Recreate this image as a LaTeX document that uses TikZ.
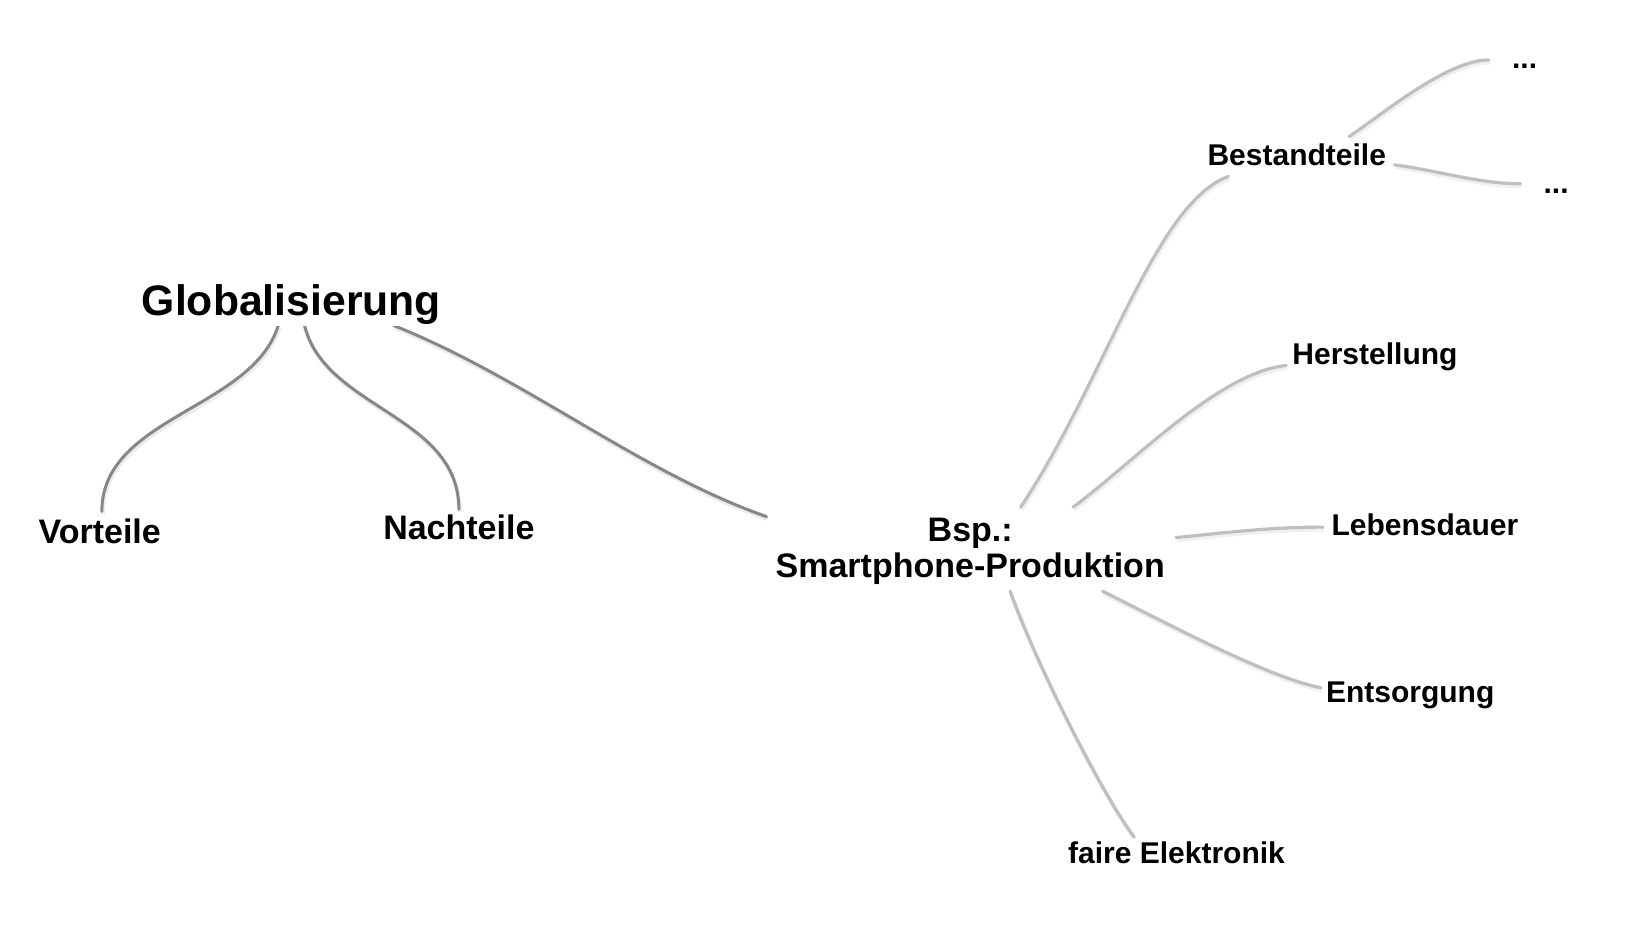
\documentclass[tikz,border=0pt]{standalone}
\usepackage{fontspec}
\setmainfont{Liberation Sans}
\usetikzlibrary{calc,backgrounds}
\begin{document}
\begin{tikzpicture}[x=1.05pt,y=-1.05pt,
  lbl/.style={inner sep=2pt, fill=white, text=black},
  big/.style={lbl, font=\bfseries\fontsize{42.7}{48}\selectfont},
  mid/.style={lbl, font=\bfseries\fontsize{34}{36.8}\selectfont},
  sml/.style={lbl, font=\bfseries\fontsize{30}{34}\selectfont},
  darkline/.style={draw=black!47, line width=3pt, line cap=round,
    preaction={draw=black!8, line width=3.8pt, transform canvas={shift={(1pt,-2.5pt)}}}},
  lightline/.style={draw=black!25, line width=3.2pt, line cap=round,
    preaction={draw=black!6, line width=4pt, transform canvas={shift={(1pt,-2.5pt)}}}}
]
\useasboundingbox (0,0) rectangle (1564.76,884.76);

% nodes
\node[big, anchor=base] (glob) at (277.5,300) {Globalisierung};
\node[mid, anchor=base] (vort) at (95,518) {Vorteile};
\node[mid, anchor=base] (nach) at (437,514) {Nachteile};
\node[mid, align=center] (smart) at (924,525) {Bsp.:\\Smartphone-Produktion};
\node[sml, anchor=base] (best) at (1235,158) {Bestandteile};
\node[sml, anchor=base] (dotsa) at (1452,65) {...};
\node[sml, anchor=base] (dotsb) at (1482,184) {...};
\node[sml, anchor=base] (herst) at (1309.5,347) {Herstellung};
\node[sml, anchor=base] (leb) at (1357,510) {Lebensdauer};
\node[sml, anchor=base] (ents) at (1343,669) {Entsorgung};
\node[sml, anchor=base] (faire) at (1120.5,822) {faire Elektronik};

\begin{scope}[on background layer]
\fill[white] (0,0) rectangle (1564.76,884.76);
% Globalisierung branches
\draw[darkline] ($(glob.base)+(-12.5,10)$) .. controls +(-25,80) and +(0,-90) .. ($(vort.base)+(2,-31)$);
\draw[darkline] ($(glob.base)+(12.5,10)$) .. controls +(20,80) and +(0,-90) .. ($(nach.base)+(0,-29)$);
\draw[darkline] ($(glob.base)+(97.5,10)$) .. controls +(125,50) and +(-120,-42) .. ($(smart.center)+(-194,-33)$);
% Smartphone branches
\draw[lightline] ($(smart.center)+(48,-42)$) .. controls +(80,-120) and +(-70,25) .. ($(best.base)+(-65,10)$);
\draw[lightline] ($(smart.center)+(98,-42)$) .. controls +(58,-43) and +(-65,7) .. ($(herst.base)+(-84.5,1)$);
\draw[lightline] ($(smart.center)+(196,-13)$) .. controls +(50,-5) and +(-50,0) .. ($(leb.base)+(-97,-8)$);
\draw[lightline] ($(smart.center)+(126,38)$) .. controls +(70,35) and +(-50,-10) .. ($(ents.base)+(-85,-14)$);
\draw[lightline] ($(smart.center)+(38,38)$) .. controls +(25,70) and +(-30,-40) .. ($(faire.base)+(-40.5,-25)$);
% Bestandteile branches
\draw[lightline] ($(best.base)+(50,-28)$) .. controls +(30,-20) and +(-40,0) .. ($(dotsa.base)+(-34,-8)$);
\draw[lightline] ($(best.base)+(93,-1)$) .. controls +(40,5) and +(-40,0) .. ($(dotsb.base)+(-34,-9)$);
\end{scope}
\end{tikzpicture}
\end{document}
